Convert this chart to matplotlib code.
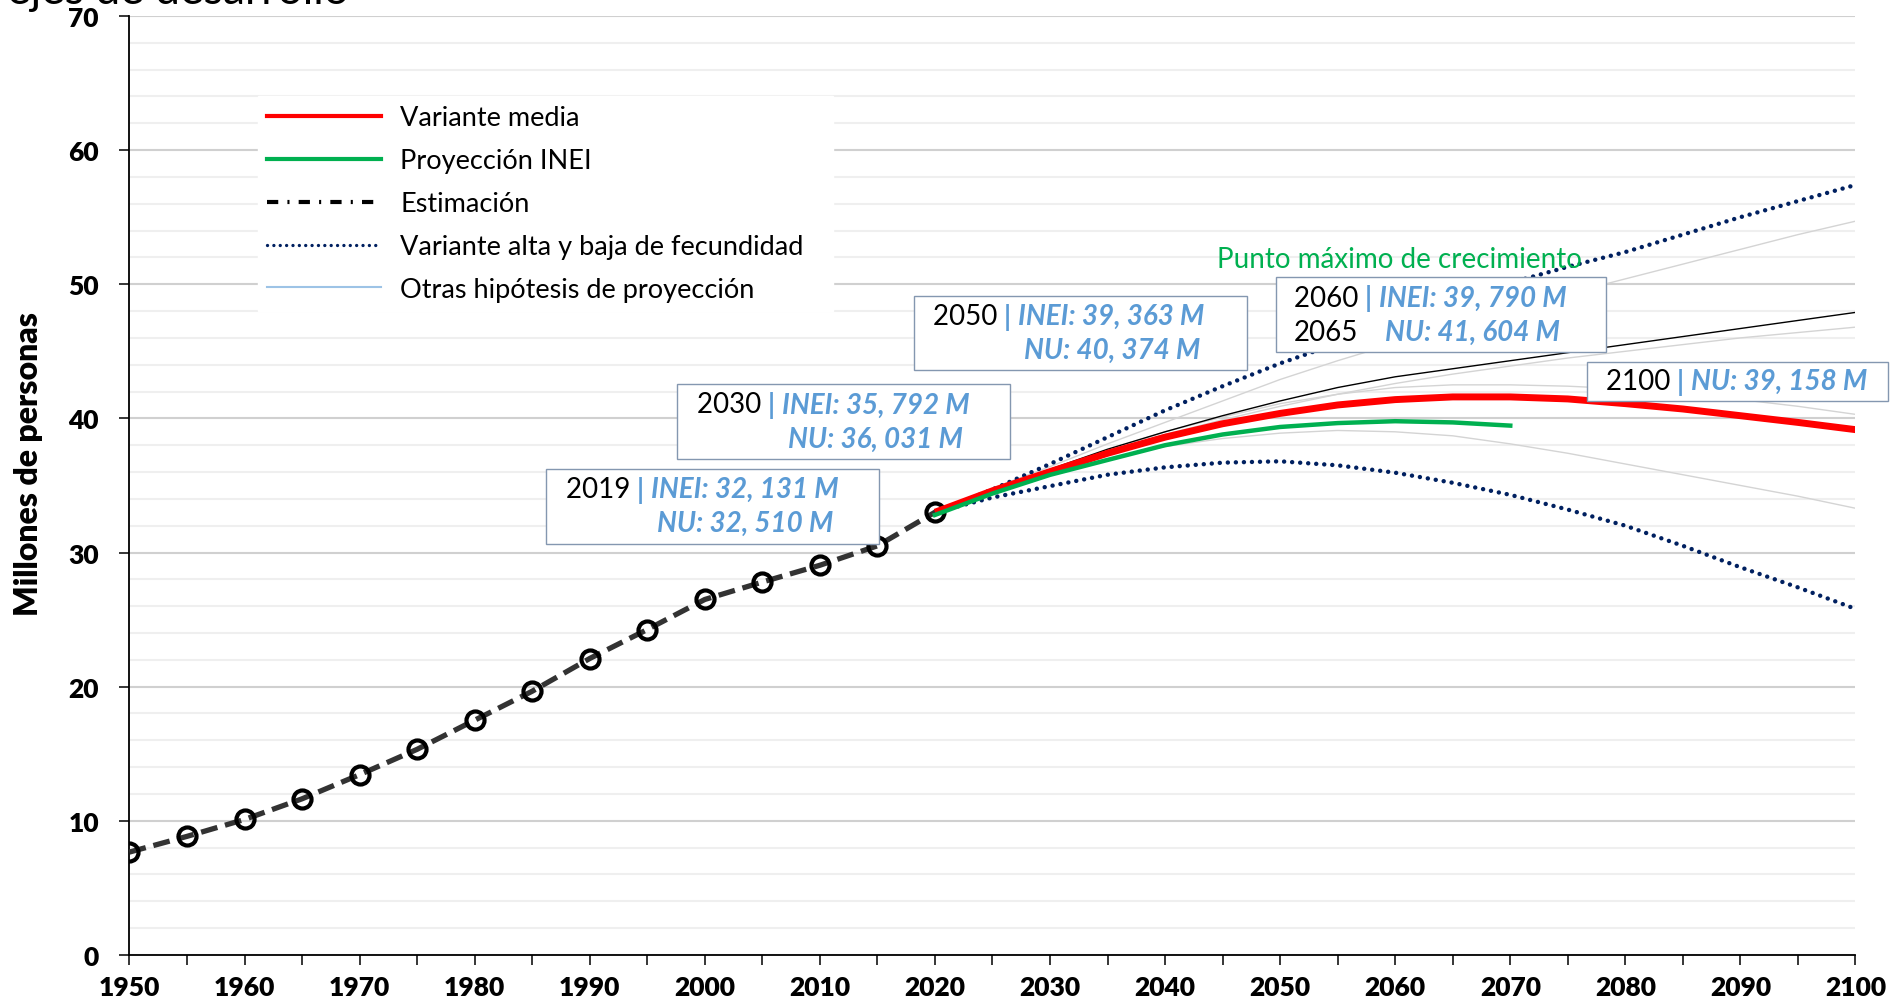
# -*- coding: utf-8 -*-
"""Peru population: estimates 1950-2020 and projection variants to 2100."""

import matplotlib

matplotlib.use("Agg")
import matplotlib.pyplot as plt
import numpy as np
from matplotlib.lines import Line2D
from matplotlib.patches import Rectangle

plt.rcParams["font.family"] = ["Lato", "DejaVu Sans"]

# ---- data (millions of people) ----
est_years = [1950, 1955, 1960, 1965, 1970, 1975, 1980, 1985, 1990, 1995, 2000, 2005, 2010, 2015, 2020]
est_pop = [7.67, 8.84, 10.10, 11.64, 13.44, 15.33, 17.50, 19.66, 22.10, 24.26, 26.50, 27.80, 29.05, 30.50, 33.00]

proj_years = [2020, 2025, 2030, 2035, 2040, 2045, 2050, 2055, 2060, 2065, 2070, 2075, 2080, 2085, 2090, 2095, 2100]
medium_pop = [33.0, 34.6, 36.03, 37.4, 38.6, 39.6, 40.37, 41.0, 41.4, 41.6, 41.6, 41.45, 41.1, 40.7, 40.2, 39.7, 39.16]
high_pop = [33.0, 34.7, 36.6, 38.6, 40.6, 42.4, 44.1, 45.6, 47.1, 48.6, 50.1, 51.3, 52.4, 53.7, 55.0, 56.2, 57.4]
low_pop = [33.0, 34.1, 34.95, 35.8, 36.35, 36.7, 36.8, 36.5, 35.95, 35.2, 34.3, 33.2, 32.0, 30.5, 28.9, 27.4, 25.8]
other_black_pop = [33.0, 34.7, 36.2, 37.7, 39.0, 40.2, 41.3, 42.3, 43.1, 43.7, 44.3, 44.9, 45.5, 46.1, 46.7, 47.3, 47.9]
other_gray_pop = [
    [33.0, 34.8, 36.4, 38.1, 39.7, 41.3, 42.9, 44.3, 45.6, 46.9, 48.1, 49.3, 50.4, 51.5, 52.6, 53.7, 54.7],
    [33.0, 34.6, 36.1, 37.5, 38.8, 39.9, 40.9, 41.8, 42.6, 43.3, 43.9, 44.5, 45.0, 45.5, 46.0, 46.4, 46.8],
    [33.0, 34.6, 36.1, 37.6, 39.0, 40.1, 41.1, 41.8, 42.3, 42.5, 42.5, 42.4, 42.2, 41.9, 41.4, 40.9, 40.3],
    [33.0, 34.5, 35.9, 37.0, 37.9, 38.5, 38.9, 39.1, 39.0, 38.7, 38.1, 37.4, 36.6, 35.8, 35.0, 34.2, 33.3],
]

inei_years = [2020, 2025, 2030, 2035, 2040, 2045, 2050, 2055, 2060, 2065, 2070]
inei_pop = [32.8, 34.4, 35.79, 36.9, 38.0, 38.8, 39.36, 39.65, 39.79, 39.7, 39.46]

legend_labels = [
    "Variante media",
    "Proyección INEI",
    "Estimación",
    "Variante alta y baja de fecundidad",
    "Otras hipótesis de proyección",
]

# callouts: (box x0, y0, x1, y1), first line (year, value), second line (year or "", value)
callouts = [
    ((1986.2, 30.67, 2015.1, 36.26), (1987.9, 34.73), ("2019", "INEI: 32, 131 M"), ("", "NU: 32, 510 M")),
    ((1997.6, 36.98, 2026.5, 42.58), (1999.3, 41.04), ("2030", "INEI: 35, 792 M"), ("", "NU: 36, 031 M")),
    ((2018.2, 43.57, 2047.1, 49.16), (2019.8, 47.63), ("2050", "INEI: 39, 363 M"), ("", "NU: 40, 374 M")),
    ((2049.6, 44.92, 2078.3, 50.51), (2051.2, 48.98), ("2060", "INEI: 39, 790 M"), ("2065", "NU: 41, 604 M")),
    ((2076.7, 41.31, 2102.8, 44.20), (2078.3, 42.76), ("2100", "NU: 39, 158 M"), None),
]

RED = "#ff0000"
GREEN = "#00b050"
NAVY = "#002060"
BLUE = "#5b9bd5"
LIGHT_BLUE = "#9dc3e6"
GRAY = "#d4d4d4"
BOX_EDGE = "#8497b0"
FS = 20


def _callout(ax, box, pos, line1, line2):
    x0, y0, x1, y1 = box
    ax.add_patch(Rectangle((x0, y0), x1 - x0, y1 - y0, facecolor="white",
                           edgecolor=BOX_EDGE, lw=1.0, zorder=6, clip_on=False))
    x, y = pos
    t_year = ax.text(x, y, f"{line1[0]} ", fontsize=FS, color="black",
                     ha="left", va="center", zorder=7, clip_on=False)
    t_bar = ax.annotate("| ", xy=(1, 0.5), xycoords=t_year, fontsize=FS, color=BLUE,
                        fontweight="bold", ha="left", va="center", zorder=7)
    t_val = ax.annotate(line1[1], xy=(1, 0.5), xycoords=t_bar, fontsize=FS, color=BLUE,
                        fontweight="bold", fontstyle="italic", ha="left", va="center", zorder=7)
    if line2 is None:
        return
    ax.annotate(line2[1], xy=(0, 0.5), xycoords=t_val, xytext=(6, -34),
                textcoords="offset pixels", fontsize=FS, color=BLUE,
                fontweight="bold", fontstyle="italic", ha="left", va="center", zorder=7)
    if line2[0]:
        ax.annotate(line2[0], xy=(0, 0.5), xycoords=t_year, xytext=(0, -34),
                    textcoords="offset pixels", fontsize=FS, color="black",
                    ha="left", va="center", zorder=7)


def main():
    fig = plt.figure(figsize=(18.98, 10.03), dpi=100)
    ax = fig.add_axes([0.0682, 0.0469, 0.9094, 0.9362])

    # projection cluster
    for series in other_gray_pop:
        ax.plot(proj_years, series, color=GRAY, lw=1.0, zorder=2)
    ax.plot(proj_years, other_black_pop, color="black", lw=1.0, zorder=3)
    for series in (high_pop, low_pop):
        ax.plot(proj_years, series, color=NAVY, lw=3.2, linestyle=(0, (0.01, 1.8)),
                dash_capstyle="round", zorder=3)

    ax.plot(est_years, est_pop, color="#333333", lw=3.8, dashes=(3.2, 1.5),
            marker="o", ms=13, mfc="none", mec="black", mew=3.0, zorder=3)

    ax.plot(proj_years, medium_pop, color=RED, lw=5.0, solid_capstyle="butt", zorder=4)
    ax.plot(inei_years, inei_pop, color=GREEN, lw=3.2, zorder=5)

    ax.text(2044.5, 51.87, "Punto máximo de crecimiento", color=GREEN, fontsize=FS,
            ha="left", va="center", zorder=5)

    for box, pos, line1, line2 in callouts:
        _callout(ax, box, pos, line1, line2)

    # axes styling
    ax.set_xlim(1950, 2100)
    ax.set_ylim(0, 70)
    ax.set_xticks(np.arange(1950, 2101, 10))
    ax.set_xticks(np.arange(1950, 2101, 5), minor=True)
    ax.set_yticks(np.arange(0, 71, 10))
    ax.set_yticks(np.arange(0, 71, 2), minor=True)
    ax.grid(which="major", axis="y", color="#d0d0d0", lw=1.5, zorder=0)
    ax.grid(which="minor", axis="y", color="#efefef", lw=1.5, zorder=0)
    ax.set_axisbelow(True)
    for side in ("top", "right"):
        ax.spines[side].set_visible(False)
    for side in ("left", "bottom"):
        ax.spines[side].set_linewidth(1.3)
    ax.tick_params(axis="x", which="both", length=7.2, width=1.1, direction="out")
    ax.tick_params(axis="x", which="major", pad=7, labelsize=19)
    ax.tick_params(axis="y", which="major", length=7, width=1.1, pad=15, labelsize=19)
    ax.tick_params(axis="y", which="minor", length=0)
    for lab in ax.get_xticklabels() + ax.get_yticklabels():
        lab.set_fontweight("heavy")
    ax.set_ylabel("Millones de personas", fontsize=23, fontweight="heavy")
    ax.yaxis.set_label_coords(-0.0498, 0.524)

    handles = [
        Line2D([], [], color=RED, lw=3.0),
        Line2D([], [], color=GREEN, lw=3.0),
        Line2D([], [], color="black", lw=3.0, dashes=(2.7, 2.2, 0.5, 2.2)),
        Line2D([], [], color=NAVY, lw=2.4, linestyle=(0, (0.01, 1.9)), dash_capstyle="round"),
        Line2D([], [], color=LIGHT_BLUE, lw=1.5),
    ]
    ax.legend(handles, legend_labels, loc="upper left",
              bbox_to_anchor=(0.0744, 0.686, 0.3332, 0.2288), mode="expand",
              frameon=True, fancybox=False, facecolor="white", edgecolor="white",
              framealpha=1.0, fontsize=19.5, handlelength=4.2, handletextpad=0.7,
              labelspacing=0.66, borderpad=0.35, borderaxespad=0)

    # title cut off at the top of the image
    fig.text(0.0037, 1 - 4 / 1003, "ejes de desarrollo", fontsize=32, ha="left", va="baseline")

    fig.savefig("out.png", dpi=100)
    plt.close(fig)


if __name__ == "__main__":
    main()
